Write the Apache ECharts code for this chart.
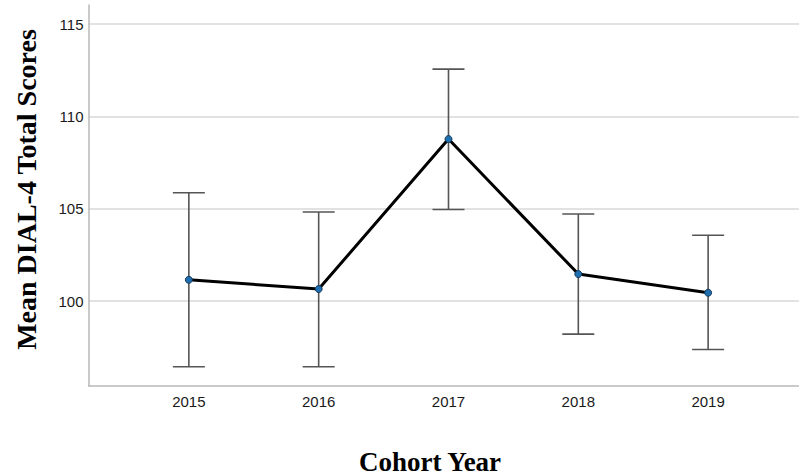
<!DOCTYPE html>
<html>
<head>
<meta charset="utf-8">
<script src="https://cdn.jsdelivr.net/npm/echarts@6/dist/echarts.min.js"></script>
<style>
html,body{margin:0;padding:0;background:#fff;}
#chart{width:799px;height:476px;}
</style>
</head>
<body>
<div id="chart"></div>
<script>
const years = [2015, 2016, 2017, 2018, 2019];
const means = [101.15, 100.65, 108.77, 101.46, 100.45];
const lowerCI = [96.44, 96.44, 104.96, 98.21, 97.38];
const upperCI = [105.86, 104.82, 112.56, 104.71, 103.56];
const yTicks = [100, 105, 110, 115];
const xTitle = 'Cohort Year';
const yTitle = 'Mean DIAL-4 Total Scores';

const chart = echarts.init(document.getElementById('chart'), null, {renderer: 'svg'});

const meanData = years.map((y, i) => [y, means[i]]);
const errData = years.map((y, i) => [y, lowerCI[i], upperCI[i]]);

chart.setOption({
  animation: false,
  backgroundColor: '#ffffff',
  grid: {left: 88.5, right: 0, top: 5, bottom: 90, containLabel: false, outerBoundsMode: 'none'},
  graphic: [
    {
      type: 'text', x: 430, y: 462,
      style: {text: xTitle, fontFamily: 'Liberation Serif', fontWeight: 'bold', fontSize: 27,
        fill: '#000', textAlign: 'center', textVerticalAlign: 'middle'}
    },
    {
      type: 'text', x: 26, y: 189.5, rotation: Math.PI / 2,
      style: {text: yTitle, fontFamily: 'Liberation Serif', fontWeight: 'bold', fontSize: 28,
        fill: '#000', textAlign: 'center', textVerticalAlign: 'middle'}
    }
  ],
  xAxis: {
    type: 'value',
    min: 2014.227,
    max: 2019.70,
    axisLine: {show: true, lineStyle: {color: '#b9b9b9', width: 1.5}},
    axisTick: {show: false, customValues: years},
    splitLine: {show: false},
    axisLabel: {
      customValues: years,
      fontFamily: 'Liberation Sans', fontSize: 15, color: '#1a1a1a', margin: 8,
      formatter: v => String(v)
    }
  },
  yAxis: {
    type: 'value',
    min: 95.4,
    max: 116.03,
    axisLine: {show: true, lineStyle: {color: '#b9b9b9', width: 1.5}},
    axisTick: {show: false, customValues: yTicks},
    splitLine: {show: true, lineStyle: {color: '#d9d9d9', width: 1.5}},
    axisLabel: {
      customValues: yTicks,
      fontFamily: 'Liberation Sans', fontSize: 15, color: '#1a1a1a', margin: 5,
      formatter: v => String(v)
    }
  },
  series: [
    {
      type: 'custom',
      data: errData,
      z: 2,
      renderItem: function (params, api) {
        const x = api.value(0);
        const lo = api.coord([x, api.value(1)]);
        const hi = api.coord([x, api.value(2)]);
        const hw = 16;
        const style = {stroke: '#555555', lineWidth: 1.6};
        return {
          type: 'group',
          children: [
            {type: 'line', shape: {x1: lo[0], y1: lo[1], x2: hi[0], y2: hi[1]}, style: style},
            {type: 'line', shape: {x1: lo[0] - hw, y1: lo[1], x2: lo[0] + hw, y2: lo[1]}, style: style},
            {type: 'line', shape: {x1: hi[0] - hw, y1: hi[1], x2: hi[0] + hw, y2: hi[1]}, style: style}
          ]
        };
      }
    },
    {
      type: 'line',
      data: meanData,
      z: 3,
      symbol: 'circle',
      symbolSize: 7,
      lineStyle: {color: '#000000', width: 3},
      itemStyle: {color: '#1f6fb0', borderColor: '#173a5e', borderWidth: 1}
    }
  ]
});
</script>
</body>
</html>
